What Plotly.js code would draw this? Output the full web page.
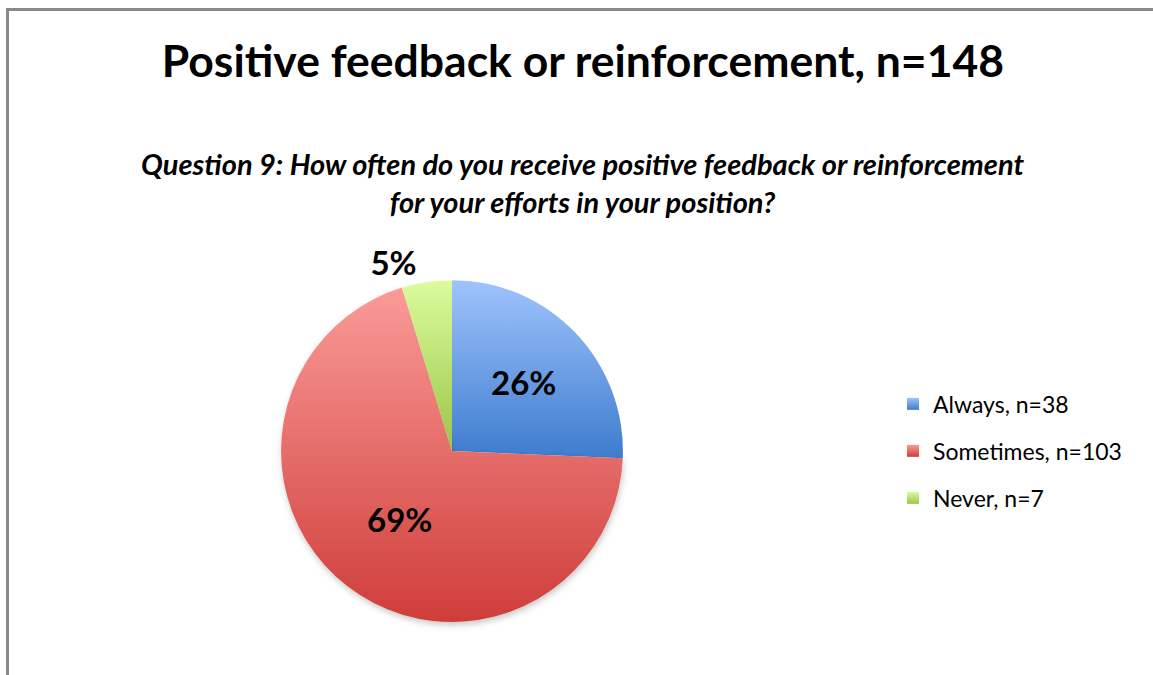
<!DOCTYPE html>
<html>
<head>
<meta charset="utf-8">
<script src="https://cdn.plot.ly/plotly-3.0.1.min.js"></script>
<style>
  html, body { margin: 0; padding: 0; background: #ffffff; overflow: hidden; }
  #chart { width: 1153px; height: 675px; }
  #frame { position: absolute; left: 6px; top: 8px; width: 1200px; height: 700px;
           border-left: 3px solid #898989; border-top: 3px solid #898989; pointer-events: none; }
</style>
</head>
<body>
<div id="chart"></div>
<div id="frame"></div>
<script>
const categories = ['Always', 'Sometimes', 'Never'];
const counts = [38, 103, 7];
const pctLabels = ['26%', '69%', '5%'];
const totalN = 148;

const labels = categories.map((c, i) => c + ', n=' + counts[i]);
const topColors = ['#9fc4fc', '#fa9b98', '#dcfc9e'];
const bottomColors = ['#3d7cce', '#cf3d3a', '#9ac646'];
const midColors = ['#6b9ee3', '#e56d6b', '#bde277'];

const FONT = 'Lato, "Open Sans", sans-serif';

const trace = {
  type: 'pie',
  labels: labels,
  values: counts,
  text: pctLabels,
  textinfo: 'text',
  textposition: ['inside', 'inside', 'outside'],
  insidetextorientation: 'horizontal',
  sort: false,
  direction: 'clockwise',
  rotation: 0,
  marker: { colors: midColors, line: { width: 0 } },
  textfont: { family: FONT, size: 33, color: '#000000', weight: 'bold' },
  outsidetextfont: { family: FONT, size: 33, color: '#000000', weight: 'bold' },
  insidetextfont: { family: FONT, size: 33, color: '#000000', weight: 'bold' },
  domain: { x: [0.2437, 0.5403], y: [0.0785, 0.585] },
  hoverinfo: 'label+percent'
};

const layout = {
  width: 1153,
  height: 675,
  margin: { l: 0, r: 0, t: 0, b: 0 },
  paper_bgcolor: '#ffffff',
  plot_bgcolor: '#ffffff',
  showlegend: true,
  title: {
    text: 'Positive feedback or reinforcement, n=' + totalN,
    font: { family: FONT, size: 44.5, color: '#000000', weight: 'bold' },
    x: 0.5056, xref: 'container', xanchor: 'center',
    y: 1 - 61 / 675, yref: 'container', yanchor: 'middle'
  },
  annotations: [{
    text: '<i>Question 9: How often do you receive positive feedback or reinforcement<br>for your efforts in your position?</i>',
    xref: 'paper', yref: 'paper',
    x: 0.5056, y: 1 - 183 / 675,
    xanchor: 'center', yanchor: 'middle',
    showarrow: false,
    align: 'center',
    font: { family: FONT, size: 29, color: '#000000', weight: 'bold' }
  }],
  legend: {
    x: 893 / 1153, y: 1 - 451 / 675,
    xanchor: 'left', yanchor: 'middle',
    font: { family: FONT, size: 23, color: '#000000' },
    bgcolor: 'rgba(0,0,0,0)',
    itemclick: false
  }
};

const ROW_GAP = 47;

Plotly.newPlot('chart', [trace], layout, { displayModeBar: false, staticPlot: true }).then(function (gd) {
  const svg = gd.querySelector('.main-svg');
  const ns = 'http://www.w3.org/2000/svg';
  let defs = svg.querySelector('defs');
  if (!defs) { defs = document.createElementNS(ns, 'defs'); svg.insertBefore(defs, svg.firstChild); }
  categories.forEach(function (c, i) {
    const g = document.createElementNS(ns, 'linearGradient');
    g.setAttribute('id', 'sliceGrad' + i);
    g.setAttribute('x1', '0'); g.setAttribute('y1', '0');
    g.setAttribute('x2', '0'); g.setAttribute('y2', '1');
    const s1 = document.createElementNS(ns, 'stop');
    s1.setAttribute('offset', '0'); s1.setAttribute('stop-color', topColors[i]);
    const s2 = document.createElementNS(ns, 'stop');
    s2.setAttribute('offset', '1'); s2.setAttribute('stop-color', bottomColors[i]);
    g.appendChild(s1); g.appendChild(s2);
    defs.appendChild(g);
  });
  const f = document.createElementNS(ns, 'filter');
  f.setAttribute('id', 'pieShadow');
  f.setAttribute('x', '-10%'); f.setAttribute('y', '-10%');
  f.setAttribute('width', '125%'); f.setAttribute('height', '125%');
  const ds = document.createElementNS(ns, 'feDropShadow');
  ds.setAttribute('dx', '1'); ds.setAttribute('dy', '3');
  ds.setAttribute('stdDeviation', '3'); ds.setAttribute('flood-color', '#000');
  ds.setAttribute('flood-opacity', '0.22');
  f.appendChild(ds);
  defs.appendChild(f);

  const biggest = counts.indexOf(Math.max.apply(null, counts));
  gd.querySelectorAll('.pielayer .slice').forEach(function (sl, i) {
    const p = sl.querySelector('path.surface');
    if (p) {
      p.style.fill = 'url(#sliceGrad' + i + ')';
      if (i === biggest) p.setAttribute('filter', 'url(#pieShadow)');
    }
  });

  const items = gd.querySelectorAll('.legend .traces');
  items.forEach(function (tr, i) {
    const p = tr.querySelector('path.legendpie');
    if (p) p.style.fill = 'url(#sliceGrad' + i + ')';
  });
  // spread legend rows to the reference's row spacing, keeping the middle row in place
  const n = items.length;
  const ys = [];
  items.forEach(function (tr) {
    const m = /translate\(\s*([-\d.]+)[ ,]+([-\d.]+)\s*\)/.exec(tr.getAttribute('transform') || '');
    ys.push(m ? [parseFloat(m[1]), parseFloat(m[2])] : [0, 0]);
  });
  const mid = (n - 1) / 2;
  const centerY = (ys[0][1] + ys[n - 1][1]) / 2;
  items.forEach(function (tr, i) {
    tr.setAttribute('transform', 'translate(' + ys[i][0] + ',' + (centerY + (i - mid) * ROW_GAP) + ')');
  });
  gd.querySelectorAll('.legend .scrollbox, .legend').forEach(function (el) {
    el.removeAttribute('clip-path');
    el.style.clipPath = 'none';
  });
});
</script>
</body>
</html>
